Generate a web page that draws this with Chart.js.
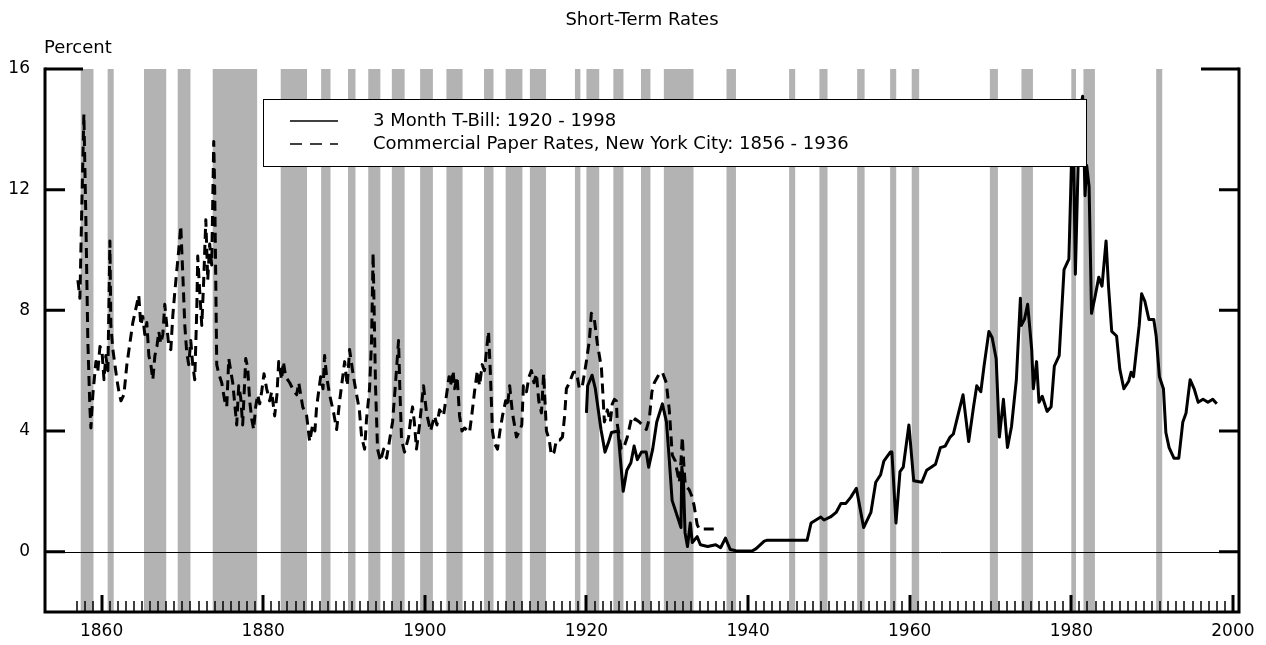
<!DOCTYPE html>
<html><head><meta charset="utf-8">
<script src="https://cdn.jsdelivr.net/npm/chart.js@4.4.0/dist/chart.umd.min.js"></script>
<style>html,body{margin:0;padding:0;background:#fff;}#wrap{width:1266px;height:645px;}</style>
</head><body><div id="wrap"><canvas id="c" width="1266" height="645"></canvas></div>
<script>
const FONT = 'DejaVu Sans';
const chartTitle = 'Short-Term Rates';
const yUnitLabel = 'Percent';
const seriesLabels = ['3 Month T-Bill: 1920 - 1998', 'Commercial Paper Rates, New York City: 1856 - 1936'];
const xTickLabels = [1860, 1880, 1900, 1920, 1940, 1960, 1980, 2000];
const yTickLabels = [0, 4, 8, 12, 16];

const recessionStarts = [1857.42,1860.75,1865.25,1869.42,1873.75,1882.17,1887.17,1890.50,1893.00,1895.92,1899.42,1902.67,1907.33,1910.00,1913.00,1918.58,1920.00,1923.33,1926.75,1929.58,1937.33,1945.08,1948.83,1953.50,1957.58,1960.25,1969.92,1973.83,1980.00,1981.50,1990.50];
const recessionEnds   = [1859.00,1861.50,1868.00,1871.00,1879.25,1885.42,1888.33,1891.42,1894.50,1897.50,1901.00,1904.67,1908.50,1912.08,1915.00,1919.25,1921.58,1924.58,1927.92,1933.25,1938.50,1945.83,1949.83,1954.42,1958.33,1961.17,1970.92,1975.25,1980.58,1982.92,1991.25];

const cpYears = [1857.07,1857.32,1857.56,1857.81,1858.06,1858.30,1858.55,1858.68,1858.92,1859.30,1859.54,1859.80,1860.04,1860.30,1860.53,1860.78,1860.90,1861.03,1861.15,1861.40,1861.65,1861.90,1862.15,1862.40,1862.76,1863.13,1863.50,1863.87,1864.36,1864.60,1864.86,1865.10,1865.35,1865.60,1865.85,1866.10,1866.34,1866.60,1866.85,1867.08,1867.33,1867.58,1867.82,1868.07,1868.32,1868.57,1868.81,1869.06,1869.30,1869.55,1869.80,1870.05,1870.30,1870.54,1870.79,1871.04,1871.28,1871.53,1871.78,1871.90,1872.15,1872.40,1872.64,1872.90,1873.14,1873.38,1873.63,1873.88,1874.00,1874.13,1874.25,1874.50,1874.87,1875.24,1875.49,1875.74,1875.98,1876.23,1876.48,1876.72,1876.97,1877.22,1877.46,1877.84,1878.08,1878.33,1878.58,1878.82,1879.07,1879.32,1879.57,1879.81,
1880.10,1880.43,1880.80,1881.05,1881.42,1881.70,1881.92,1882.28,1882.50,1882.78,1883.28,1883.65,1884.14,1884.40,1884.89,1885.38,1885.75,1886.12,1886.40,1886.61,1887.11,1887.40,1887.60,1887.85,1888.22,1888.72,1889.09,1889.46,1890.08,1890.40,1890.69,1891.06,1891.30,1891.56,1891.90,1892.18,1892.55,1892.79,1893.16,1893.41,1893.60,1893.90,1894.15,1894.52,1894.90,1895.27,1895.64,1896.01,1896.38,1896.75,1896.90,1897.12,1897.49,1897.99,1898.30,1898.48,1898.70,1898.97,1899.35,1899.84,1900.21,1900.71,1901.20,1901.50,1901.82,1902.31,1902.69,1903.00,1903.18,1903.50,1903.68,1904.00,1904.30,1904.60,1904.91,1905.53,1905.80,1906.15,1906.50,1906.77,1907.10,1907.38,1907.88,1908.10,1908.37,1908.60,1908.99,1909.30,1909.61,1910.00,1910.22,1910.50,1910.84,1911.10,1911.34,1911.71,1912.00,1912.20,1912.58,1912.90,1913.19,1913.50,1913.81,1914.10,1914.43,1914.70,1915.05,1915.40,1915.66,1916.00,1916.28,1916.70,1917.03,1917.30,1917.52,1917.89,1918.38,1918.76,1919.13,1919.50,1919.99,1920.36,1920.61,1920.98,1921.35,1921.85,1922.00,1922.22,1922.59,1922.96,1923.20,1923.46,1923.70,1923.83,1924.07,1924.30,1924.57,1925.06,1925.56,1925.80,1926.05,1926.55,1926.92,1927.41,1927.78,1928.10,1928.40,1929.02,1929.39,1929.88,1930.25,1930.62,1931.00,1931.12,1931.49,1931.70,1931.86,1932.05,1932.23,1932.72,1933.10,1933.34,1933.70,1933.96,1936.10];
const cpRates = [9.0,8.4,11.5,14.5,11.0,7.0,4.8,4.1,5.2,6.3,6.0,6.8,6.7,5.7,6.5,6.0,8.0,10.3,7.5,6.7,6.2,5.7,5.3,5.0,5.2,6.2,6.9,7.6,8.2,8.5,7.5,7.8,7.2,7.6,6.5,6.2,5.7,6.5,6.8,7.3,6.9,7.2,8.2,7.5,6.8,6.7,7.8,8.6,9.3,10.0,10.8,9.2,7.5,6.6,6.2,7.0,6.2,5.7,8.0,9.8,8.6,7.5,9.0,11.0,9.0,10.2,9.5,13.6,12.0,9.0,6.2,5.9,5.6,5.0,4.8,6.4,6.0,5.6,4.9,4.2,5.5,5.1,4.2,6.4,6.1,5.0,4.4,4.05,4.8,5.2,4.9,5.3,
5.9,5.4,5.0,5.3,4.5,5.2,6.3,5.7,6.3,5.8,5.6,5.4,5.2,5.6,4.8,4.5,3.65,4.2,4.0,4.8,5.8,5.4,6.5,5.8,5.2,4.6,4.05,5.0,6.3,5.5,6.7,6.0,5.6,5.2,4.7,3.8,3.4,4.4,5.4,7.0,9.9,5.5,3.4,3.0,3.4,3.1,3.7,4.3,5.6,7.0,5.5,3.7,3.3,3.8,4.5,4.8,4.3,3.4,4.2,5.5,4.6,4.0,4.5,4.2,4.7,4.5,5.2,5.8,5.5,6.0,5.4,5.8,4.5,4.0,4.1,3.95,4.5,5.3,6.0,5.5,6.2,6.0,7.3,6.0,4.0,3.6,3.4,4.0,4.5,5.0,4.8,5.5,4.6,4.2,3.8,4.0,4.2,5.5,5.3,5.8,6.0,5.6,5.9,5.0,4.6,5.9,4.0,3.7,3.2,3.3,3.7,3.7,3.8,4.5,5.4,5.6,5.95,5.95,5.4,5.5,6.3,7.0,7.9,7.7,6.9,6.1,5.4,4.3,4.7,4.3,4.9,5.05,5.0,4.2,3.8,3.4,3.4,3.8,4.4,4.3,4.4,4.3,4.2,4.05,4.4,5.3,5.6,5.9,5.95,5.6,4.7,3.2,3.0,2.8,2.3,3.0,3.8,2.9,2.2,2.05,1.8,1.5,0.9,0.75,0.75];

const tbillYears = [1920.00,1920.15,1920.70,1921.10,1921.80,1922.30,1922.70,1923.10,1923.90,1924.55,1925.00,1925.50,1925.90,1926.30,1926.80,1927.40,1927.70,1928.20,1928.70,1929.40,1929.90,1930.25,1930.60,1931.70,1931.80,1932.00,1932.20,1932.50,1932.85,1933.10,1933.70,1934.10,1935.00,1936.00,1936.60,1937.20,1937.80,1938.50,1940.50,1941.00,1942.00,1942.30,1947.30,1947.80,1948.40,1949.00,1949.40,1950.20,1950.90,1951.50,1952.10,1952.70,1953.40,1954.30,1955.20,1955.80,1956.40,1956.80,1957.60,1957.80,1958.30,1958.80,1959.20,1959.90,1960.50,1961.50,1962.10,1963.20,1963.80,1964.40,1965.00,1965.40,1966.00,1966.60,1967.30,1967.90,1968.30,1968.80,1969.20,1969.80,1970.20,1970.70,1971.10,1971.60,1972.10,1972.60,1973.20,1973.70,1973.80,1974.20,1974.60,1975.10,1975.30,1975.70,1976.00,1976.40,1977.00,1977.50,1977.90,1978.50,1979.10,1979.70,1980.00,1980.20,1980.50,1981.00,1981.40,1981.70,1981.90,1982.20,1982.50,1982.90,1983.40,1983.80,1984.30,1984.60,1985.00,1985.60,1986.00,1986.50,1987.10,1987.40,1987.70,1988.40,1988.70,1989.10,1989.60,1990.20,1990.50,1990.90,1991.40,1991.70,1992.10,1992.70,1993.30,1993.80,1994.20,1994.70,1995.20,1995.70,1996.30,1996.90,1997.50,1998.00];
const tbillRates = [4.6,5.5,5.85,5.4,4.05,3.3,3.6,3.95,4.0,2.0,2.7,2.95,3.5,3.05,3.3,3.3,2.8,3.4,4.3,4.9,4.3,3.05,1.7,0.8,2.8,2.4,0.63,0.17,0.95,0.3,0.5,0.23,0.17,0.23,0.13,0.45,0.07,0.03,0.02,0.1,0.35,0.375,0.375,0.95,1.05,1.15,1.05,1.15,1.3,1.6,1.6,1.8,2.1,0.8,1.3,2.3,2.55,3.0,3.3,3.3,0.95,2.65,2.8,4.2,2.35,2.3,2.7,2.9,3.45,3.5,3.8,3.9,4.55,5.2,3.65,4.8,5.5,5.3,6.15,7.3,7.1,6.4,3.8,5.05,3.45,4.15,5.7,8.4,7.5,7.7,8.2,6.7,5.4,6.3,4.95,5.15,4.65,4.8,6.15,6.5,9.35,9.7,12.7,14.8,9.2,14.5,15.1,11.8,12.8,12.1,7.9,8.4,9.1,8.8,10.3,8.8,7.3,7.15,6.05,5.4,5.65,5.95,5.8,7.5,8.55,8.3,7.7,7.7,7.15,5.8,5.4,3.95,3.45,3.1,3.1,4.3,4.6,5.7,5.4,4.95,5.05,4.95,5.05,4.9];

const toPts = (xs, ys) => xs.map((x, i) => ({ x: x, y: ys[i] }));

const decor = {
  id: 'decor',
  beforeDatasetsDraw(chart) {
    const { ctx, chartArea: a, scales: { x, y } } = chart;
    ctx.save();
    ctx.fillStyle = '#b3b3b3';
    const top = y.getPixelForValue(16), bot = a.bottom;
    recessionStarts.forEach((s, i) => {
      const x0 = x.getPixelForValue(s), x1 = x.getPixelForValue(recessionEnds[i]);
      ctx.fillRect(x0, top, x1 - x0, bot - top);
    });
    const y0 = Math.round(y.getPixelForValue(0)) + 0.5;
    ctx.strokeStyle = '#000'; ctx.lineWidth = 1;
    ctx.beginPath(); ctx.moveTo(a.left, y0); ctx.lineTo(a.right, y0); ctx.stroke();
    ctx.restore();
  },
  afterDatasetsDraw(chart) {
    const { ctx, chartArea: a, scales: { x, y } } = chart;
    ctx.save();
    ctx.strokeStyle = '#000';
    ctx.lineCap = 'butt';
    const top = y.getPixelForValue(16);
    ctx.lineWidth = 3;
    ctx.beginPath();
    ctx.moveTo(a.left, top - 1.5); ctx.lineTo(a.left, a.bottom);
    ctx.moveTo(a.left - 1.5, a.bottom); ctx.lineTo(a.right + 1.5, a.bottom);
    ctx.moveTo(a.right, top - 1.5); ctx.lineTo(a.right, a.bottom);
    ctx.stroke();
    yTickLabels.forEach(v => {
      const py = y.getPixelForValue(v);
      const len = v === 16 ? 38 : 20;
      ctx.beginPath();
      ctx.moveTo(a.left, py); ctx.lineTo(a.left + len, py);
      ctx.moveTo(a.right, py); ctx.lineTo(a.right - len, py);
      ctx.stroke();
    });
    for (let yr = 1857; yr <= 2000; yr++) {
      const px = Math.round(x.getPixelForValue(yr));
      const major = xTickLabels.includes(yr);
      ctx.lineWidth = major ? 3 : 1.5;
      ctx.beginPath();
      ctx.moveTo(px, a.bottom); ctx.lineTo(px, a.bottom - (major ? 17 : 11));
      ctx.stroke();
    }
    ctx.restore();
  },
  afterDraw(chart) {
    const { ctx } = chart;
    ctx.save();
    ctx.fillStyle = '#000';
    ctx.font = '18px "' + FONT + '"';
    ctx.textAlign = 'left'; ctx.textBaseline = 'middle';
    ctx.fillText(yUnitLabel, 44, 48);
    ctx.fillStyle = '#fff';
    ctx.fillRect(263, 99, 824, 68);
    ctx.strokeStyle = '#000'; ctx.lineWidth = 1;
    ctx.strokeRect(263.5, 99.5, 823, 67);
    ctx.lineWidth = 1.5;
    ctx.beginPath(); ctx.moveTo(290, 121); ctx.lineTo(338, 121); ctx.stroke();
    ctx.setLineDash([12, 8]);
    ctx.beginPath(); ctx.moveTo(290, 144); ctx.lineTo(338, 144); ctx.stroke();
    ctx.setLineDash([]);
    ctx.fillStyle = '#000';
    ctx.font = '18px "' + FONT + '"';
    ctx.fillText(chart.data.datasets[0].label, 373, 121);
    ctx.fillText(chart.data.datasets[1].label, 373, 144);
    ctx.restore();
  }
};

new Chart(document.getElementById('c'), {
  type: 'line',
  data: {
    datasets: [
      { label: seriesLabels[0], data: toPts(tbillYears, tbillRates), borderColor: '#000', borderWidth: 3, pointRadius: 0, tension: 0, fill: false, borderJoinStyle: 'round' },
      { label: seriesLabels[1], data: toPts(cpYears, cpRates), borderColor: '#000', borderWidth: 3, borderDash: [10, 6], pointRadius: 0, tension: 0, fill: false, borderJoinStyle: 'round' }
    ]
  },
  options: {
    responsive: false,
    animation: false,
    devicePixelRatio: 1,
    layout: { padding: { left: 0, right: 27, top: 0, bottom: 0 } },
    plugins: {
      legend: { display: false },
      tooltip: { enabled: false },
      title: { display: true, fullSize: false, text: chartTitle, color: '#000', font: { family: FONT, size: 18, weight: 'normal' }, padding: { top: 10, bottom: 37.4 } }
    },
    scales: {
      x: {
        type: 'linear', min: 1853, max: 2000.75,
        afterBuildTicks: s => { s.ticks = xTickLabels.map(v => ({ value: v })); },
        afterFit: s => { s.height = 33; },
        grid: { display: false, drawTicks: false },
        border: { display: false },
        ticks: { color: '#000', font: { family: FONT, size: 17 }, padding: 9, maxRotation: 0, autoSkip: false, callback: v => String(v) }
      },
      y: {
        type: 'linear', min: -2, max: 16,
        afterBuildTicks: s => { s.ticks = yTickLabels.map(v => ({ value: v })); },
        afterFit: s => { s.width = 45; },
        grid: { display: false, drawTicks: false },
        border: { display: false },
        ticks: { color: '#000', font: { family: FONT, size: 17 }, padding: 15, callback: v => String(v) }
      }
    }
  },
  plugins: [decor]
});
</script>
</body></html>
